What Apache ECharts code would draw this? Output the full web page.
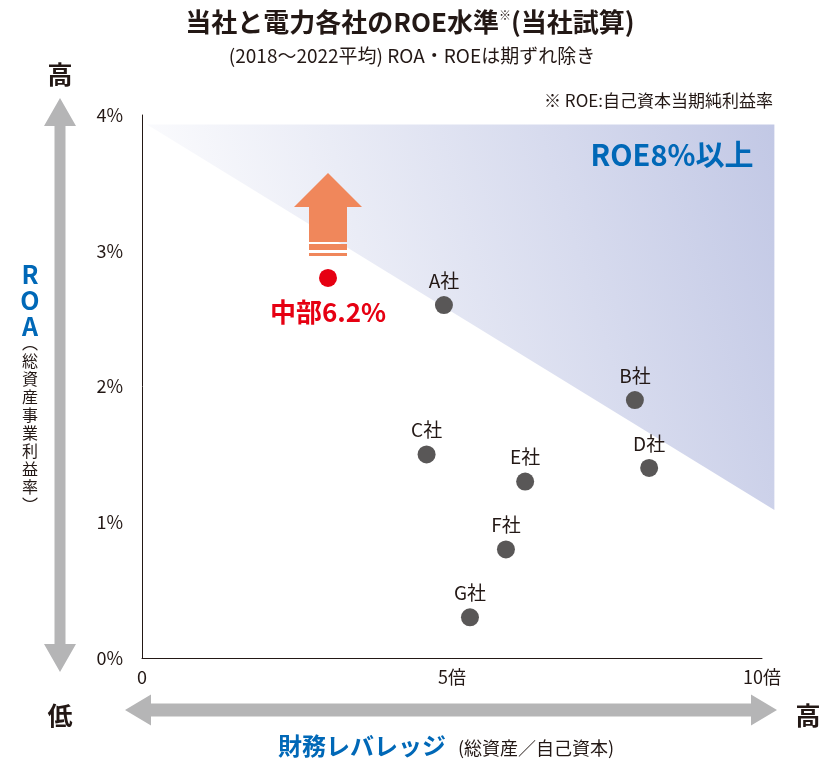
<!DOCTYPE html>
<html><head><meta charset="utf-8">
<script src="https://cdn.jsdelivr.net/npm/echarts@6/dist/echarts.min.js"></script>
<style>html,body{margin:0;padding:0;background:#fff}#c{width:837px;height:760px}</style>
</head><body><div id="c"></div>
<script>
// ---- data ----
const companies = ['A社','B社','C社','D社','E社','F社','G社'];
const leverage  = [4.87, 7.95, 4.59, 8.18, 6.18, 5.87, 5.29];
const roa       = [2.6, 1.9, 1.5, 1.4, 1.3, 0.8, 0.3];
const chubuName = '中部6.2%';
const chubuLeverage = 3.0;
const chubuRoa = 2.8;
const roeZone = [[0.08, 3.93], [10.2, 3.93], [10.2, 1.09]];
const xTicks = [0, 5, 10];
const yTicks = [0, 1, 2, 3, 4];

const FONT = '"Noto Sans CJK JP", "Noto Sans", sans-serif';
const BLUE = '#0068B7';
const GRAY = '#B5B5B6';
const INK = '#231815';

const chart = echarts.init(document.getElementById('c'), null, {renderer: 'canvas'});

function vArrow(cx, top, bottom, hw, sw, hh) {
  return [[cx, top], [cx + hw, top + hh], [cx + sw, top + hh], [cx + sw, bottom - hh], [cx + hw, bottom - hh],
          [cx, bottom], [cx - hw, bottom - hh], [cx - sw, bottom - hh], [cx - sw, top + hh], [cx - hw, top + hh]];
}
function hArrow(cy, left, right, hw, sw, hh) {
  return [[left, cy], [left + hh, cy - hw], [left + hh, cy - sw], [right - hh, cy - sw], [right - hh, cy - hw],
          [right, cy], [right - hh, cy + hw], [right - hh, cy + sw], [left + hh, cy + sw], [left + hh, cy + hw]];
}

const option = {
  animation: false,
  textStyle: {fontFamily: FONT},
  grid: {left: 142, right: 75, top: 115, bottom: 102},
  xAxis: {
    type: 'value', min: xTicks[0], max: xTicks[xTicks.length - 1], interval: 5,
    axisLine: {show: true, lineStyle: {color: INK, width: 1}},
    axisTick: {show: false}, splitLine: {show: false},
    axisLabel: {fontSize: 18, color: INK, margin: 10, fontFamily: FONT,
      formatter: v => v === 0 ? '0' : v + '倍'}
  },
  yAxis: {
    type: 'value', min: yTicks[0], max: yTicks[yTicks.length - 1], interval: 1,
    axisLine: {show: true, lineStyle: {color: INK, width: 1}},
    axisTick: {show: false}, splitLine: {show: false},
    axisLabel: {fontSize: 18, color: INK, margin: 19, fontFamily: FONT,
      formatter: v => v + '%'}
  },
  series: [
    {
      type: 'custom', z: 1, clip: false, silent: true,
      data: [0],
      renderItem: (params, api) => {
        const pts = roeZone.map(p => api.coord(p));
        return {
          type: 'polygon', shape: {points: pts},
          style: {fill: new echarts.graphic.LinearGradient(0, 0.5, 1, 0, [
            {offset: 0, color: '#ffffff'}, {offset: 1, color: '#c2c8e5'}])}
        };
      }
    },
    {
      type: 'scatter', z: 5,
      data: companies.map((c, i) => [leverage[i], roa[i], c]),
      symbolSize: 18,
      itemStyle: {color: '#595757', opacity: 1},
      label: {show: true, position: 'top', distance: 6, fontSize: 19, color: INK,
        fontFamily: FONT, formatter: p => p.value[2]}
    },
    {
      type: 'scatter', z: 6,
      data: [[chubuLeverage, chubuRoa, chubuName]],
      symbolSize: 18,
      itemStyle: {color: '#E60012', opacity: 1},
      label: {show: true, position: 'bottom', distance: 12, fontSize: 26, fontWeight: 'bold',
        color: '#E60012', fontFamily: FONT, formatter: p => p.value[2]}
    },
    {
      type: 'custom', z: 4, clip: false, silent: true,
      data: [[chubuLeverage, chubuRoa]],
      renderItem: (params, api) => {
        const p = api.coord([api.value(0), api.value(1)]);
        const x = p[0], y = p[1];
        const c = '#F0875B';
        return {
          type: 'group', children: [
            {type: 'polygon', shape: {points: [[x, y - 105], [x + 34, y - 71], [x + 19, y - 71], [x + 19, y - 36],
              [x - 19, y - 36], [x - 19, y - 71], [x - 34, y - 71]]}, style: {fill: c}},
            {type: 'rect', shape: {x: x - 19, y: y - 34, width: 38, height: 6}, style: {fill: c}},
            {type: 'rect', shape: {x: x - 19, y: y - 25, width: 38, height: 3}, style: {fill: c}}
          ]
        };
      }
    }
  ],
  graphic: [
    {type: 'text', x: 410, y: 22, style: {
      text: '{t|当社と電力各社のROE水準}{s|※}{t|(当社試算)}', align: 'center', verticalAlign: 'middle',
      rich: {t: {fontSize: 26, fontWeight: 'bold', fontFamily: FONT, fill: INK},
             s: {fontSize: 12, fontFamily: FONT, fill: INK, verticalAlign: 'top', padding: [0,0,10,0]}}}},
    {type: 'text', x: 412, y: 56, style: {text: '(2018～2022平均) ROA・ROEは期ずれ除き', fontSize: 19,
      fontFamily: FONT, fill: INK, align: 'center', verticalAlign: 'middle'}},
    {type: 'text', x: 773, y: 101, style: {text: '※ ROE:自己資本当期純利益率', fontSize: 17,
      fontFamily: FONT, fill: INK, align: 'right', verticalAlign: 'middle'}},
    {type: 'text', x: 672, y: 155, z: 10, style: {text: 'ROE8%以上', fontSize: 29, fontWeight: 'bold',
      fontFamily: FONT, fill: BLUE, align: 'center', verticalAlign: 'middle'}},
    // vertical double arrow
    {type: 'polygon', shape: {points: vArrow(60, 98, 672, 16, 5.5, 28)}, style: {fill: GRAY}},
    // horizontal double arrow
    {type: 'polygon', shape: {points: hArrow(710, 125, 777, 15.5, 6.5, 26)}, style: {fill: GRAY}},
    {type: 'text', x: 60, y: 74, style: {text: '高', fontSize: 25, fontWeight: 'bold', fontFamily: FONT,
      fill: INK, align: 'center', verticalAlign: 'middle'}},
    {type: 'text', x: 60, y: 715, style: {text: '低', fontSize: 25, fontWeight: 'bold', fontFamily: FONT,
      fill: INK, align: 'center', verticalAlign: 'middle'}},
    {type: 'text', x: 808, y: 715, style: {text: '高', fontSize: 25, fontWeight: 'bold', fontFamily: FONT,
      fill: INK, align: 'center', verticalAlign: 'middle'}},
    {type: 'text', x: 30, y: 300, style: {text: 'R\nO\nA', fontSize: 25, fontWeight: 'bold', lineHeight: 26,
      fontFamily: FONT, fill: BLUE, align: 'center', verticalAlign: 'middle'}},
    {type: 'text', x: 30, y: 424, style: {text: '︵\n総\n資\n産\n事\n業\n利\n益\n率\n︶', fontSize: 16, lineHeight: 18,
      fontFamily: FONT, fill: INK, align: 'center', verticalAlign: 'middle'}},
    {type: 'text', x: 278, y: 746, style: {text: '{b|財務レバレッジ}{n|(総資産／自己資本)}',
      verticalAlign: 'middle',
      rich: {b: {fontSize: 24, fontWeight: 'bold', fontFamily: FONT, fill: BLUE},
             n: {fontSize: 18, fontFamily: FONT, fill: INK, padding: [4, 0, 0, 12]}}}}
  ]
};
chart.setOption(option);
</script>
</body></html>
